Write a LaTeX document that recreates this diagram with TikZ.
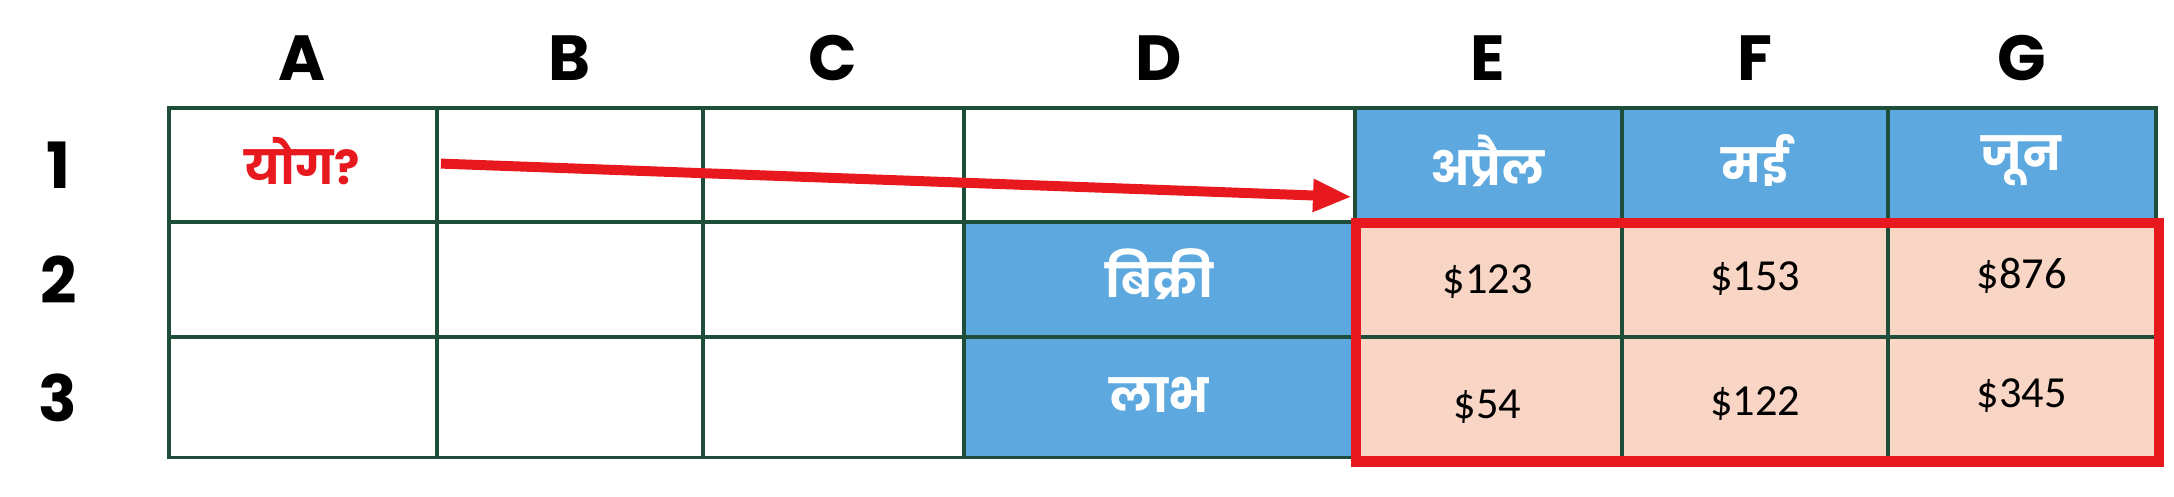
\documentclass[tikz,border=0pt]{standalone}
\usepackage{fontspec}
\setmainfont{Poppins}
\newfontfamily\numf{Carlito}
\usetikzlibrary{arrows.meta}
\definecolor{grid}{HTML}{1E4D3A}
\definecolor{hblue}{HTML}{5DA9DF}
\definecolor{salmon}{HTML}{F8D5C5}
\definecolor{myred}{HTML}{E8191E}
\begin{document}
\begin{tikzpicture}[x=0.5pt,y=-0.5pt,
  cell/.style={draw=grid,line width=1.4pt},
  hdr/.style={font=\fontsize{23}{26}\selectfont\bfseries},
  blu/.style={font=\fontsize{17}{20}\selectfont\bfseries,text=white},
  num/.style={font=\numf\fontsize{16}{19}\selectfont}]
\useasboundingbox (0,0) rectangle (1568,358);
\def\xs{{122,315,507,695,977,1170,1362,1555}}
\def\ys{{78,160,243,330}}
\fill[hblue] (977,78) rectangle (1555,160);
\fill[hblue] (695,160) rectangle (977,330);
\fill[salmon] (977,160) rectangle (1555,330);
\foreach \c in {0,...,6}{
  \foreach \r in {0,1,2}{
    \pgfmathsetmacro\xa{\xs[\c]}\pgfmathsetmacro\xb{\xs[\c+1]}
    \pgfmathsetmacro\ya{\ys[\r]}\pgfmathsetmacro\yb{\ys[\r+1]}
    \draw[cell] (\xa,\ya) rectangle (\xb,\yb);
  }}
\foreach \l/\x in {A/218,B/411,C/601,D/836,E/1073,F/1266,G/1458}
  \node[hdr] (h\l) at (\x,42) {\l};
\foreach \n/\y in {1/119,2/202,3/287}
  \node[hdr] (r\n) at (42,\y) {\n};
\node[font=\fontsize{17}{20}\selectfont\bfseries,text=myred] (a1) at (218,116) {योग?};
\node[blu] (e1) at (1073,116) {अप्रैल};
\node[blu] (f1) at (1266,116) {मई};
\node[blu] (g1) at (1458,116) {जून};
\node[blu] (d2) at (836,198) {बिक्री};
\node[blu] (d3) at (836,285) {लाभ};
\node[num] (e2) at (1073,203) {\$123};
\node[num] (f2) at (1266,201) {\$153};
\node[num] (g2) at (1458,199) {\$876};
\node[num] (e3) at (1073,293) {\$54};
\node[num] (f3) at (1266,291) {\$122};
\node[num] (g3) at (1458,285) {\$345};
\draw[myred,line width=3.8pt] (978,161) rectangle (1557,333);
\coordinate (as) at (318,118);
\coordinate (ae) at (975,142);
\draw[myred,line width=3.6pt,-{Triangle[length=14pt,width=11pt]}] (as) -- (ae);
\end{tikzpicture}
\end{document}
